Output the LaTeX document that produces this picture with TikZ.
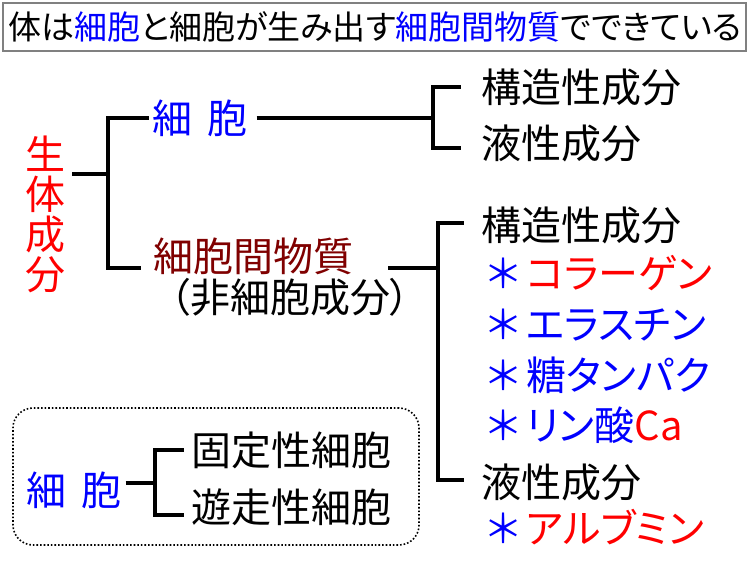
\documentclass[tikz,border=0pt]{standalone}
\usepackage{fontspec}
\newfontfamily\jp[CharacterWidth=AlternateProportional]{Noto Sans CJK JP}
\definecolor{maroonc}{RGB}{128,0,0}
\newcommand\bul{\makebox[45pt][c]{\textcolor{blue}{＊}}}
\begin{document}
\begin{tikzpicture}[x=1pt,y=-1pt,
  txt/.style={font=\jp\fontsize{40}{40}\selectfont, inner sep=0pt, anchor=west},
  ttl/.style={font=\jp\fontsize{33}{33}\selectfont},
  ln/.style={line width=4pt},
  lnj/.style={line width=4pt, line join=miter, line cap=rect}]
\useasboundingbox (0,0) rectangle (750,563);
\fill[white] (0,0) rectangle (750,563);

% title
\draw[gray, line width=2pt] (3,3) rectangle (746,51);
\node[inner sep=0pt, ttl] (title) at (375,27)
  {体は\textcolor{blue}{細胞}と細胞が生み出す\textcolor{blue}{細胞間物質}でできている};

% level 1
\node[txt, red, anchor=center, align=center, font=\jp\fontsize{40}{40}\selectfont] (body) at (45,214) {生\\体\\成\\分};
\node[txt, blue] (cell) at (152,118) {細\hspace{0.38em}胞};
\node[txt, maroonc] (ecm) at (153,256) {細胞間物質};
\node[txt, anchor=center] (nc) at (290,297) {（非細胞成分）};
\coordinate (j1) at (108,174);
\coordinate (j1t) at (108,118);
\coordinate (j1b) at (108,268);
\draw[ln] ([xshift=7pt]body.east |- j1) -- (j1);
\draw[lnj] (cell.west |- j1t) ++(-5,0) -- (j1t) -- (j1b) -- ++(31,0) coordinate (ecmarm);

% cell branch
\node[txt] (s1) at (481,87) {構造性成分};
\node[txt] (l1) at (481,143) {液性成分};
\coordinate (j2) at (433,118);
\draw[ln] ([xshift=9pt]cell.east) -- (j2);
\draw[lnj] ([xshift=-22pt]s1.west) -- (433,87) -- (433,148) -- ([xshift=-22pt]l1.west |- 0,148);

% extracellular branch
\node[txt] (s2) at (481,225) {構造性成分};
\node[txt] (c1) at (481,273) {\bul\textcolor{red}{コラーゲン}};
\node[txt, blue] (c2) at (481,325) {\bul エラスチン};
\node[txt, blue] (c3) at (481,375) {\bul 糖タンパク};
\node[txt, blue] (c4) at (481,425) {\bul リン酸\textcolor{red}{Ca}};
\node[txt] (l2) at (481,482) {液性成分};
\node[txt] (c5) at (481,527) {\bul\textcolor{red}{アルブミン}};
\coordinate (j3) at (438,268);
\draw[ln] (388,268) -- (j3);
\draw[lnj] ([xshift=-19pt]s2.west |- 0,223) -- (438,223) -- (438,480) -- ([xshift=-19pt]l2.west |- 0,480);

% cell types group
\node[draw, dotted, line width=1.6pt, rounded corners=20pt, minimum width=406pt, minimum height=137pt] (grp) at (216,476.5) {};
\node[txt, blue] (cell2) at (26,490) {細\hspace{0.38em}胞};
\node[txt] (f1) at (191,450) {固定性細胞};
\node[txt] (f2) at (191,507) {遊走性細胞};
\coordinate (j4) at (155,483);
\draw[ln] ([xshift=4pt]cell2.east |- j4) -- (j4);
\draw[lnj] ([xshift=-9pt]f1.west |- 0,450) -- (155,450) -- (155,515) -- ([xshift=-9pt]f2.west |- 0,515);
\end{tikzpicture}
\end{document}
